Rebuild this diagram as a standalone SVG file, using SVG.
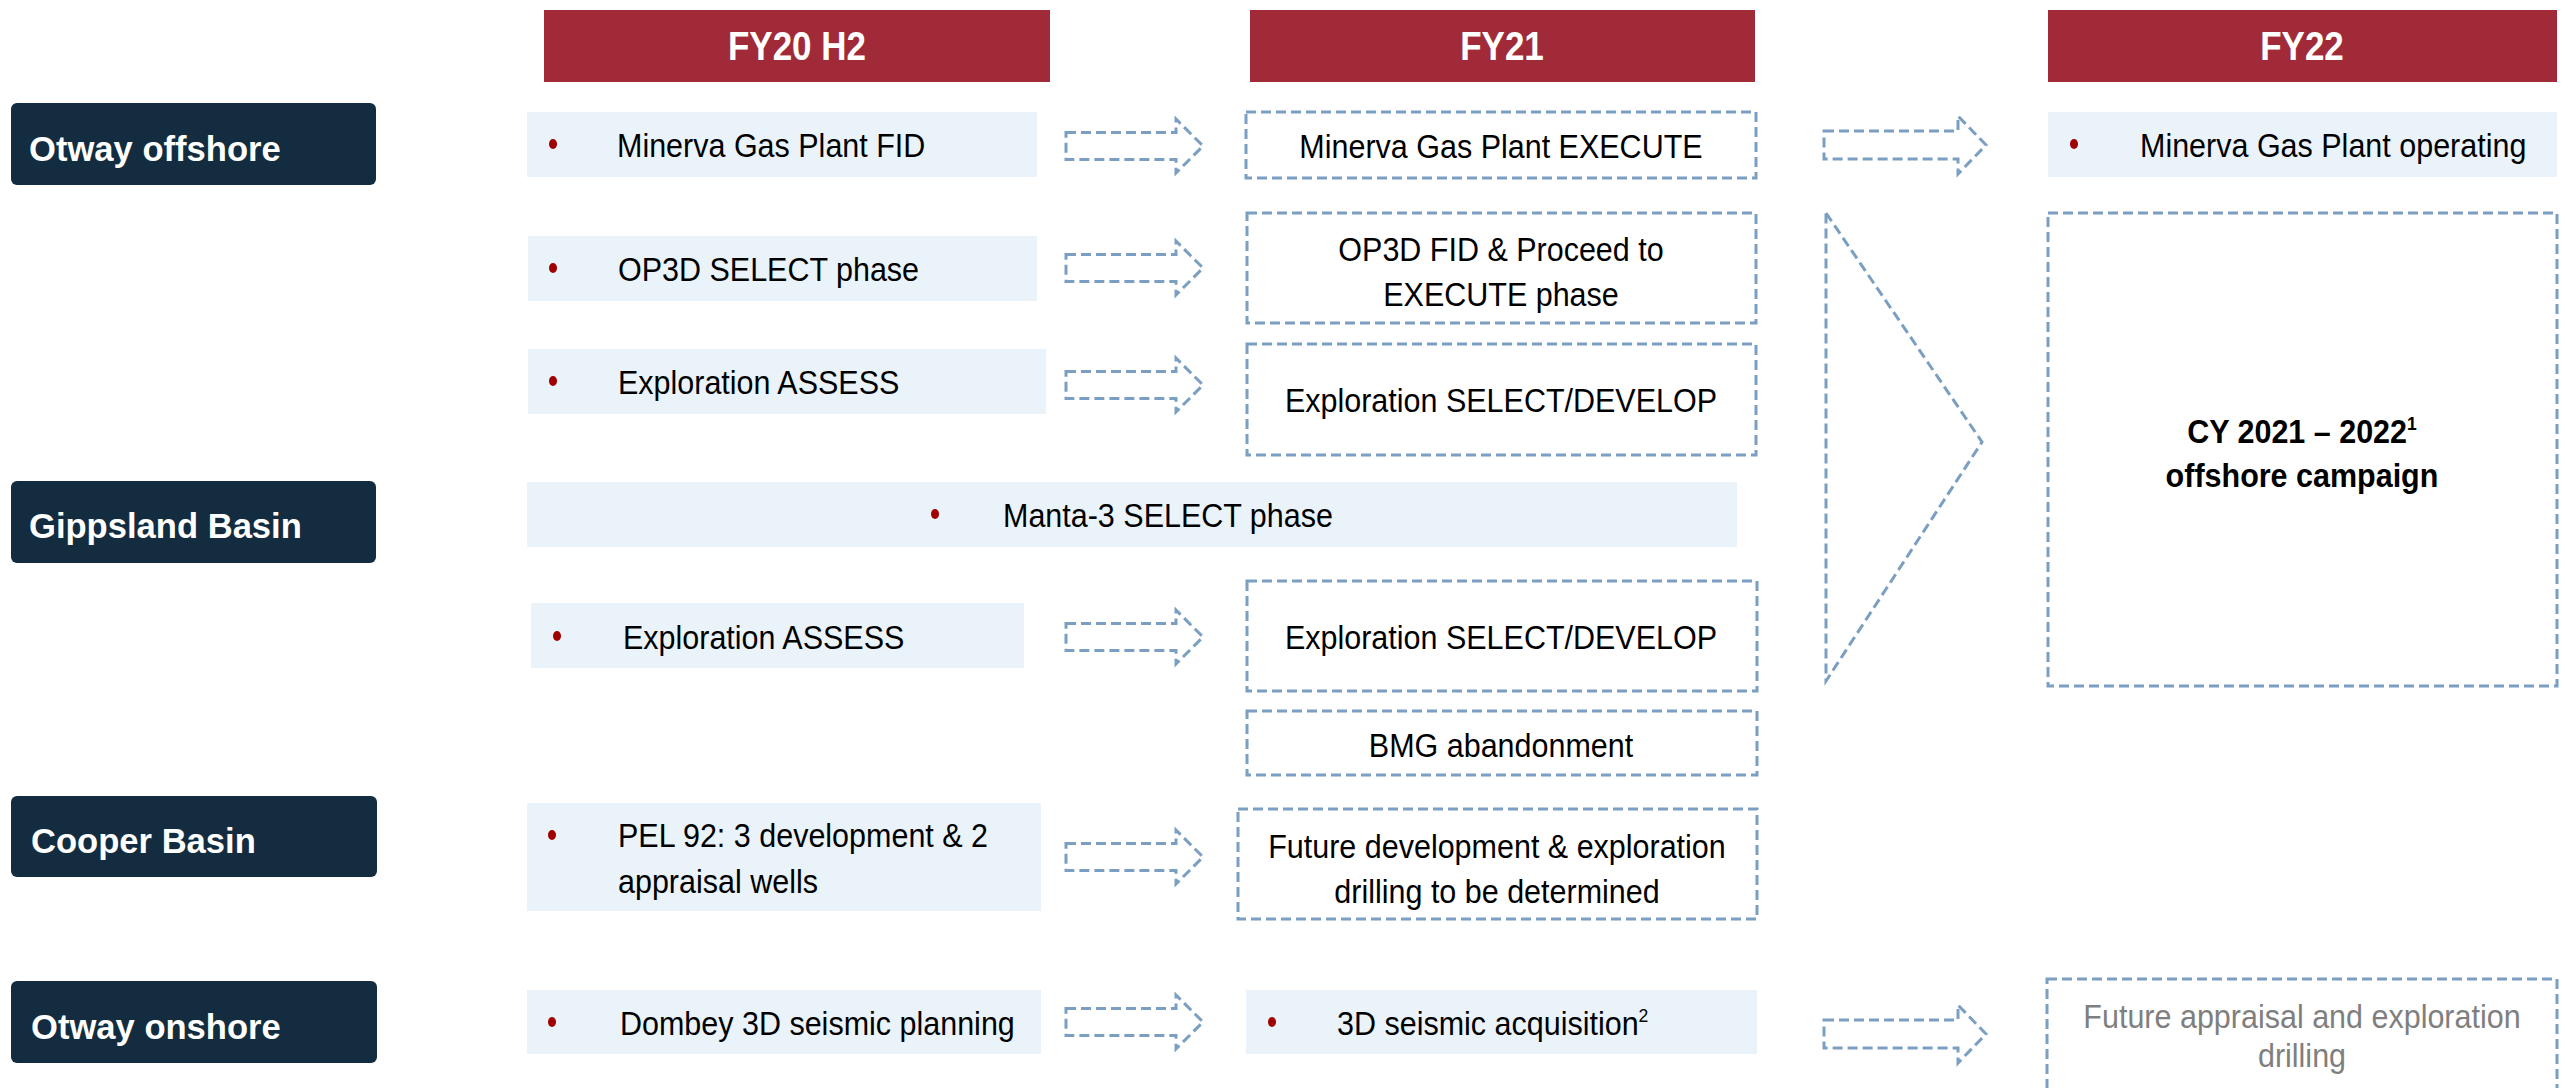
<svg xmlns="http://www.w3.org/2000/svg" width="2572" height="1088" viewBox="0 0 2572 1088">
<style>
.hdr rect{fill:#a12a38}
.hdr text{fill:#fff;font-family:"Liberation Sans",Arial,sans-serif;font-weight:bold;font-size:40px;text-anchor:middle;transform-box:fill-box;transform-origin:center;transform:scaleX(.875)}
.cat rect{fill:#132c40}
.cat text{fill:#fff;font-family:"Liberation Sans",Arial,sans-serif;font-weight:bold;font-size:34.6px}
.box{fill:#eaf3f9}
.dbox{fill:#fff;stroke:#7b9fc3;stroke-width:3;stroke-dasharray:10 5}
.t{font-family:"Liberation Sans",Arial,sans-serif;font-size:33px;fill:#000;transform-box:fill-box;transform-origin:left center;transform:scaleX(.924)}
.c{text-anchor:middle;transform-origin:center}
.b{font-weight:bold}
.g{fill:#7f7f7f}
.dot{fill:#a00000}
.arr{fill:none;stroke:#7b9fc3;stroke-width:3;stroke-dasharray:10 5}
</style>
<defs>
<path id="arrA" d="M0 -13.5 H110 V-27 L137 0 L110 27 V13.5 H0 Z"/>
<path id="arrB" d="M0 -14 H134 V-29 L162 0 L134 29 V14 H0 Z"/>
</defs>
<rect width="2572" height="1088" fill="#fff"/>

<g id="hdr-fy20" class="hdr"><rect x="544" y="10" width="506" height="72"/><text x="797" y="60">FY20 H2</text></g>
<g id="hdr-fy21" class="hdr"><rect x="1250" y="10" width="505" height="72"/><text x="1502" y="60">FY21</text></g>
<g id="hdr-fy22" class="hdr"><rect x="2048" y="10" width="509" height="72"/><text x="2302" y="60">FY22</text></g>

<g id="cat-otway-offshore" class="cat"><rect x="11" y="103" width="365" height="82" rx="6"/><text x="29" y="161">Otway offshore</text></g>
<g id="cat-gippsland" class="cat"><rect x="11" y="481" width="365" height="82" rx="6"/><text x="29" y="538">Gippsland Basin</text></g>
<g id="cat-cooper" class="cat"><rect x="11" y="796" width="366" height="81" rx="6"/><text x="31" y="853">Cooper Basin</text></g>
<g id="cat-otway-onshore" class="cat"><rect x="11" y="981" width="366" height="82" rx="6"/><text x="31" y="1039">Otway onshore</text></g>

<g id="n-minerva-fid"><rect class="box" x="527" y="112" width="510" height="65"/><ellipse class="dot" cx="553" cy="144" rx="4" ry="5"/><text class="t" x="617" y="157">Minerva Gas Plant FID</text></g>
<g id="n-op3d-select"><rect class="box" x="528" y="236" width="509" height="65"/><ellipse class="dot" cx="553" cy="268" rx="4" ry="5"/><text class="t" x="618" y="281">OP3D SELECT phase</text></g>
<g id="n-expl-assess-1"><rect class="box" x="528" y="349" width="518" height="65"/><ellipse class="dot" cx="553" cy="381" rx="4" ry="5"/><text class="t" x="618" y="394">Exploration ASSESS</text></g>
<g id="n-manta3"><rect class="box" x="527" y="482" width="1210" height="65"/><ellipse class="dot" cx="935" cy="514" rx="4" ry="5"/><text class="t" x="1003" y="527">Manta-3 SELECT phase</text></g>
<g id="n-expl-assess-2"><rect class="box" x="531" y="603" width="493" height="65"/><ellipse class="dot" cx="557" cy="636" rx="4" ry="5"/><text class="t" x="623" y="649">Exploration ASSESS</text></g>
<g id="n-pel92"><rect class="box" x="527" y="803" width="514" height="108"/><ellipse class="dot" cx="552" cy="835" rx="4" ry="5"/><text class="t" x="618" y="847">PEL 92: 3 development &amp; 2</text><text class="t" x="618" y="893">appraisal wells</text></g>
<g id="n-dombey"><rect class="box" x="527" y="990" width="514" height="64"/><ellipse class="dot" cx="552" cy="1022" rx="4" ry="5"/><text class="t" x="620" y="1035">Dombey 3D seismic planning</text></g>

<g id="n-minerva-execute"><rect class="dbox" x="1246" y="112" width="510" height="66"/><text class="t c" x="1501" y="158">Minerva Gas Plant EXECUTE</text></g>
<g id="n-op3d-fid"><rect class="dbox" x="1247" y="213" width="509" height="110"/><text class="t c" x="1501" y="261">OP3D FID &amp; Proceed to</text><text class="t c" x="1501" y="306">EXECUTE phase</text></g>
<g id="n-expl-select-1"><rect class="dbox" x="1247" y="344" width="509" height="111"/><text class="t c" x="1501" y="412">Exploration SELECT/DEVELOP</text></g>
<g id="n-expl-select-2"><rect class="dbox" x="1247" y="581" width="510" height="110"/><text class="t c" x="1501" y="649">Exploration SELECT/DEVELOP</text></g>
<g id="n-bmg"><rect class="dbox" x="1247" y="711" width="510" height="64"/><text class="t c" x="1501" y="757">BMG abandonment</text></g>
<g id="n-future-dev"><rect class="dbox" x="1238" y="809" width="519" height="110"/><text class="t c" x="1497" y="858">Future development &amp; exploration</text><text class="t c" x="1497" y="903">drilling to be determined</text></g>
<g id="n-3d-seismic"><rect class="box" x="1246" y="990" width="511" height="64"/><ellipse class="dot" cx="1272" cy="1022" rx="4" ry="5"/><text class="t" x="1337" y="1035">3D seismic acquisition<tspan font-size="19" dy="-13">2</tspan></text></g>

<g id="n-minerva-operating"><rect class="box" x="2048" y="112" width="509" height="65"/><ellipse class="dot" cx="2074" cy="144" rx="4" ry="5"/><text class="t" x="2140" y="157">Minerva Gas Plant operating</text></g>
<g id="n-campaign"><rect class="dbox" x="2048" y="213" width="509" height="473"/><text class="t c b" x="2302" y="443">CY 2021 – 2022<tspan font-size="19" dy="-13">1</tspan></text><text class="t c b" x="2302" y="487">offshore campaign</text></g>
<g id="n-future-appraisal"><rect class="dbox" x="2047" y="979" width="510" height="130"/><text class="t c g" x="2302" y="1028">Future appraisal and exploration</text><text class="t c g" x="2302" y="1067">drilling</text></g>

<g id="connectors">
<use href="#arrA" class="arr" transform="translate(1066 146)"/>
<use href="#arrA" class="arr" transform="translate(1066 268)"/>
<use href="#arrA" class="arr" transform="translate(1066 385)"/>
<use href="#arrA" class="arr" transform="translate(1066 637)"/>
<use href="#arrA" class="arr" transform="translate(1066 857)"/>
<use href="#arrA" class="arr" transform="translate(1066 1022)"/>
<use href="#arrB" class="arr" transform="translate(1824 145)"/>
<use href="#arrB" class="arr" transform="translate(1824 1034)"/>
<path class="arr" d="M1826 213 L1982 442 L1826 681 Z"/>
</g>
</svg>
